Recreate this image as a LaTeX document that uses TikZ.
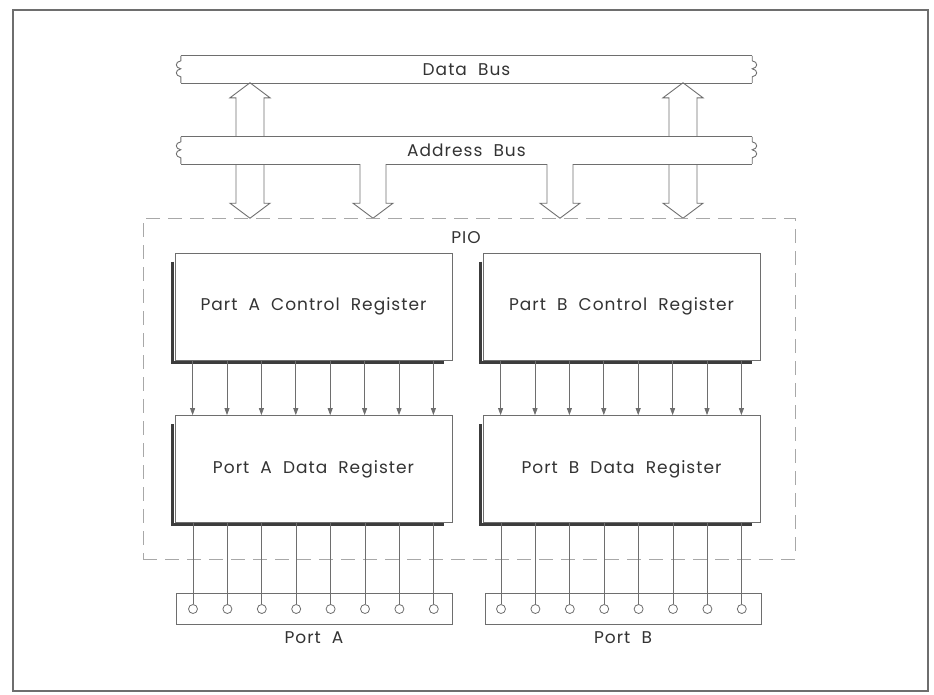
\documentclass[tikz,border=0pt]{standalone}
\usepackage{fontspec}
\setmainfont{Poppins}[LetterSpace=6,WordSpace=2]
\usetikzlibrary{arrows.meta,calc,positioning}
\definecolor{Ink}{HTML}{333333}
\definecolor{Wire}{HTML}{6E6E6E}
\definecolor{Shade}{HTML}{3C3C3C}
\definecolor{Dash}{HTML}{A8A8A8}
\tikzset{reg/.style={draw=Wire,line width=.8pt,fill=white,minimum width=277,minimum height=107,text=Ink},wire/.style={draw=Wire,line width=.9pt},shadowline/.style={draw=Shade,line width=3pt},bit/.style={-{Triangle[length=7pt,width=5pt]},draw=Wire,line width=.8pt},bus/.style={minimum width=571,minimum height=27,inner sep=0pt,text=Ink},pio/.style={draw=Dash,dash pattern=on 14pt off 8pt,line width=.8pt,minimum width=652,minimum height=341},conn/.style={draw=Wire,line width=.8pt,minimum width=276,minimum height=31},pin/.style={circle,draw=Wire,line width=.8pt,fill=white,minimum size=9pt,inner sep=0pt},lbl/.style={text=Ink,inner sep=1pt},frame/.style={draw=Wire,line width=1.2pt}}
\newcommand{\busend}[2]{\draw[wire] (#1) -- ++(0,5) .. controls +(#2*-6,1) and +(#2*-6,-1) .. ++(0,8) .. controls +(#2*-6,1) and +(#2*-6,-1) .. ++(0,8) -- ++(0,6);}
\newcommand{\fatdown}[3]{\draw[wire] (#1) ++(-#3,0) -- ++(0,#2-15) -- ++(#3-20,0) -- ++(20,15) -- ++(20,-15) -- ++(#3-20,0) -- ++(0,15-#2);}
\newcommand{\fatup}[3]{\draw[wire] (#1) ++(-#3,0) -- ++(0,15-#2) -- ++(#3-20,0) -- ++(20,-15) -- ++(20,15) -- ++(#3-20,0) -- ++(0,#2-15);}

\begin{document}
\begin{tikzpicture}[x=1pt,y=-1pt,every node/.style={font=\fontsize{17}{20}\selectfont}]
      \useasboundingbox (0,0) rectangle (934,694);
      \draw[frame](13,10) rectangle (928,691);
      % buses
      \node[bus](databus) at (466.5,69.5){Data Bus};
      \node[bus](addrbus) at (466.5,150.5){Address Bus};
      \draw[wire](databus.north west)--(databus.north east);\draw[wire](databus.south west)--(databus.south east);
      \busend{databus.north west}{1}\busend{databus.north east}{-1}
      \busend{addrbus.north west}{1}\busend{addrbus.north east}{-1}
      \coordinate(dL) at (250,0);\coordinate(aL) at (373,0);\coordinate(aR) at (560,0);\coordinate(dR) at (683,0);
      \draw[wire](addrbus.north west)--(addrbus.north east);
      \draw[wire](addrbus.south west)--($(aL|-addrbus.south)+(-13,0)$) ($(aL|-addrbus.south)+(13,0)$)--($(aR|-addrbus.south)+(-13,0)$) ($(aR|-addrbus.south)+(13,0)$)--(addrbus.south east);
      \fatup{dL|-addrbus.north}{54}{14}\fatup{dR|-addrbus.north}{54}{14}
      \fatdown{dL|-addrbus.south}{54}{14}\fatdown{dR|-addrbus.south}{54}{14}
      \fatdown{aL|-addrbus.south}{54}{13}\fatdown{aR|-addrbus.south}{54}{13}
      % PIO
      \node[pio](pio) at (469,388.5){};
      \node[lbl](piolbl) at (466,238){PIO};
      \node[reg](ctlA) at (313.5,306.5){Part A Control Register};
      \node[reg](ctlB) at (621.5,306.5){Part B Control Register};
      \node[reg](datA) at (313.5,469){Port A Data Register};
      \node[reg](datB) at (621.5,469){Port B Data Register};
      \foreach \r in {ctlA,ctlB,datA,datB}{\draw[shadowline]([xshift=-2.5pt,yshift=-9pt]\r.north west)|-([xshift=-8pt,yshift=-2pt]\r.south east);}
      \foreach \i in {0,...,7}{\draw[bit]([xshift={18pt+\i*34.4pt}]ctlA.south west)--([xshift={18pt+\i*34.4pt}]datA.north west);\draw[bit]([xshift={18pt+\i*34.4pt}]ctlB.south west)--([xshift={18pt+\i*34.4pt}]datB.north west);}
      % ports
      \node[conn](portA) at (314,608.5){};
      \node[conn](portB) at (623,608.5){};
      \node[lbl,below=6pt of portA](portAlbl){Port A};
      \node[lbl,below=6pt of portB](portBlbl){Port B};
      \foreach \i in {0,...,7}{\node[pin](pa\i) at (193+\i*34.4,609){};\draw[wire](pa\i|-datA.south)--(pa\i.north);\node[pin](pb\i) at (501+\i*34.4,609){};\draw[wire](pb\i|-datB.south)--(pb\i.north);}
    \end{tikzpicture}
\end{document}
